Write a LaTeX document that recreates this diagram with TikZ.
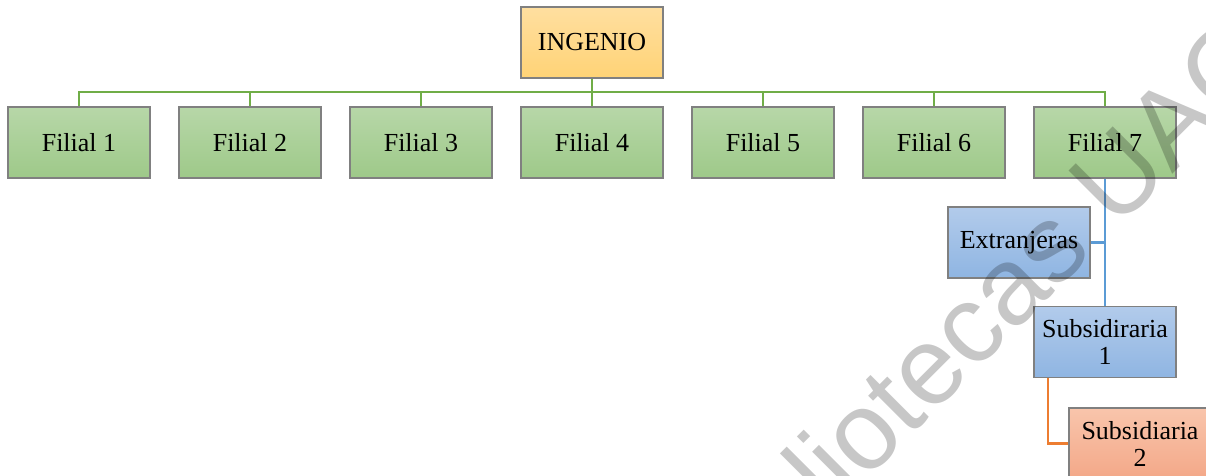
\documentclass[tikz,border=0pt]{standalone}
\usepackage{fontspec}
\setmainfont{Liberation Serif}
\newfontfamily\wmfont{Liberation Sans}
\usetikzlibrary{positioning,calc}
\definecolor{gtop}{RGB}{183,215,168}
\definecolor{gbot}{RGB}{158,201,137}
\definecolor{otop}{RGB}{255,223,160}
\definecolor{obot}{RGB}{255,211,118}
\definecolor{btop}{RGB}{178,203,235}
\definecolor{bbot}{RGB}{143,181,226}
\definecolor{rtop}{RGB}{249,197,172}
\definecolor{rbot}{RGB}{243,168,136}
\definecolor{gline}{RGB}{112,173,71}
\definecolor{bline}{RGB}{91,155,213}
\definecolor{rline}{RGB}{237,125,49}
\definecolor{boxborder}{RGB}{128,128,128}
\tikzset{
  orgbox/.style={rectangle, draw=boxborder, line width=1.2pt, minimum width=142pt, minimum height=71pt,
    inner sep=0pt, align=center, font=\fontsize{26}{27}\selectfont, text=black},
  greenbox/.style={orgbox, top color=gtop, bottom color=gbot},
  yellowbox/.style={orgbox, top color=otop, bottom color=obot},
  bluebox/.style={orgbox, top color=btop, bottom color=bbot},
  redbox/.style={orgbox, top color=rtop, bottom color=rbot},
  gconn/.style={draw=gline, line width=2.6pt},
  bconn/.style={draw=bline, line width=2.6pt},
  rconn/.style={draw=rline, line width=2.6pt},
  watermark/.style={rotate=45, anchor=base west, inner sep=0pt, font=\wmfont\fontsize{110}{110}\selectfont, text=black, opacity=0.22}
}
\begin{document}
\begin{tikzpicture}[x=1pt,y=-1pt]
\clip (0,0) rectangle (1206,475);
\fill[white] (0,0) rectangle (1206,475);
% connectors (drawn under the boxes)
\coordinate (ingS) at (592,77.5);
\foreach \i in {1,...,7}{
  \coordinate (fN\i) at ({79+171*(\i-1)},107);
  \draw[gconn] (ingS) -- ++(0,14.5) -| (fN\i);
}
\node[yellowbox] (ing) at (592,42.5) {INGENIO};
\foreach \i in {1,...,7}{
  \node[greenbox] (f\i) at ({79+171*(\i-1)},142.5) {Filial \i};
}
\node[bluebox] (ext) at (1019,242.5) {Extranjeras};
\node[bluebox] (s1) at (1105,342) {Subsidiraria\\1};
\node[redbox] (s2) at (1140,443.5) {Subsidiaria\\2};
\draw[bconn] (f7.south) -- (s1.north);
\draw[bconn] (f7.south) |- (ext.east);
\draw[rconn] ([xshift=-57pt]s1.south) |- (s2.west);
% watermark
\node[watermark] (wm) at (718.5,628.5) {Bibliotecas UAC};
\end{tikzpicture}
\end{document}
